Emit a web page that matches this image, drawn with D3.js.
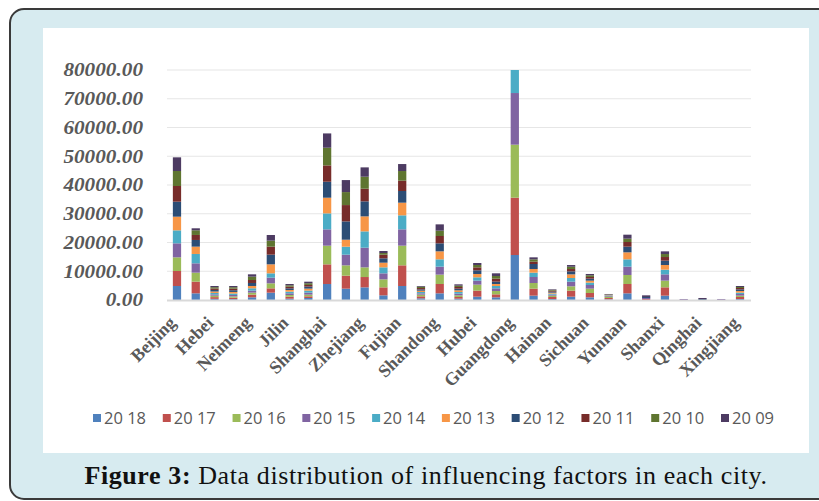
<!DOCTYPE html>
<html><head><meta charset="utf-8">
<script src="https://cdn.jsdelivr.net/npm/d3@7"></script>
<style>html,body{margin:0;padding:0;background:#fff;}svg{display:block;}</style>
</head><body>
<svg id="c" width="819" height="501"></svg>
<script>
const cities = ["Beijing","Tianjin","Hebei","Shanxi","Neimeng","Liaoning","Jilin","Heilongjiang","Shanghai","Jiangsu","Zhejiang","Anhui","Fujian","Jiangxi","Shandong","Henan","Hubei","Hunan","Guangdong","Guangxi","Hainan","Chongqing","Sichuan","Guizhou","Yunnan","Tibet","Shanxi","Gansu","Qinghai","Ningxia","Xingjiang"];
const years = ["20 18","20 17","20 16","20 15","20 14","20 13","20 12","20 11","20 10","20 09"];
const colors = ["#4f81bd","#c0504d","#9bbb59","#8064a2","#4bacc6","#f79646","#2c4d75","#772c2a","#5f7530","#4d3b62"];
const v2018 = [4870,2320,400,300,930,2550,460,700,5560,3940,4400,1620,4870,580,2320,460,1160,930,15650,1510,350,1160,930,230,2320,0,1510,0,0,0,350];
const v2017 = [5220,4060,600,500,930,1510,700,580,6840,4520,3590,2780,7190,700,3250,580,2090,1040,19940,2430,700,2090,1510,460,3250,350,2900,0,0,0,700];
const v2016 = [4750,3130,500,450,700,1740,580,580,6490,3590,3360,2780,6840,580,3250,580,2090,1160,18430,1970,460,1510,1510,460,3130,0,2320,0,0,0,460];
const v2015 = [4870,3250,450,500,700,1970,580,700,5680,3710,6840,2090,5680,460,2780,580,1390,930,17970,2090,350,1620,1270,230,2900,350,2200,350,0,350,580];
const v2014 = [4520,3250,500,500,810,1510,580,700,5560,2780,5680,2090,4870,460,2550,580,1160,810,8010,1510,350,1270,810,230,2550,0,1620,0,0,0,460];
const v2013 = [4750,2550,500,550,810,3130,580,700,5450,2430,5220,1620,4400,460,2780,580,1160,700,0,1270,350,1270,700,120,2430,0,1620,0,0,0,580];
const v2012 = [5220,2320,550,600,1040,3360,580,700,5560,6370,5220,1510,4060,460,2780,580,1270,810,0,1740,350,1040,700,120,1970,350,1510,0,350,0,580];
const v2011 = [5450,1740,500,550,1040,2780,580,580,5680,5680,4400,1270,3590,460,2550,580,1040,1040,0,810,350,810,580,120,1620,0,1270,0,0,0,460];
const v2010 = [5220,1620,450,500,1160,2090,460,580,6140,4520,4170,580,3360,460,1850,460,810,930,0,810,250,810,580,60,1160,0,1040,0,0,0,350];
const v2009 = [4750,700,420,420,810,1970,460,550,4980,4170,3250,700,2430,250,2200,470,700,930,0,700,200,580,460,60,1390,570,930,0,350,0,350];
const series = [v2018,v2017,v2016,v2015,v2014,v2013,v2012,v2011,v2010,v2009];
const yTicks = [0,10000,20000,30000,40000,50000,60000,70000,80000];
const caption = {bold:"Figure 3:", rest:" Data distribution of influencing factors in each city."};

const svg = d3.select("#c");
svg.append("rect").attr("x",10).attr("y",9).attr("width",840).attr("height",490).attr("rx",14)
  .attr("fill","#d7ebf0").attr("stroke","#3a3a3a").attr("stroke-width",2);
svg.append("rect").attr("x",43).attr("y",28).attr("width",766).attr("height",425).attr("fill","#ffffff");

const rows = cities.map((c,i)=>{const o={i}; years.forEach((y,k)=>o[y]=series[k][i]); return o;});
const x = d3.scaleBand().domain(d3.range(cities.length)).range([167.6,749.4]).paddingInner(0.56).paddingOuter(0.28);
const y = d3.scaleLinear().domain([0,80000]).range([300,70]);

svg.append("g").selectAll("line").data(yTicks.slice(1)).join("line")
  .attr("x1",167).attr("x2",751).attr("y1",d=>y(d)).attr("y2",d=>y(d))
  .attr("stroke","#e6e6e6").attr("stroke-width",1.2);

const stack = d3.stack().keys(years)(rows);
svg.append("g").selectAll("g").data(stack).join("g").attr("fill",(d,k)=>colors[k])
  .selectAll("rect").data(d=>d).join("rect")
  .attr("x",d=>x(d.data.i)).attr("width",x.bandwidth())
  .attr("y",d=>y(d[1])).attr("height",d=>Math.max(0,y(d[0])-y(d[1])));

svg.append("line").attr("x1",167).attr("x2",751).attr("y1",y(0)+0.5).attr("y2",y(0)+0.5)
  .attr("stroke","#d9d9d9").attr("stroke-width",2);

const fmt = d3.format(".2f");
const yl = svg.append("g").attr("transform","translate(143,0) scale(1.18,1)");
yl.selectAll("text").data(yTicks).join("text")
  .attr("x",0).attr("y",d=>y(d)).attr("dy","0.35em").attr("text-anchor","end")
  .attr("font-family","Liberation Serif").attr("font-weight","bold").attr("font-style","italic")
  .attr("font-size",18).attr("fill","#595959").text(d=>fmt(d));

svg.append("g").selectAll("text").data(d3.range(0,cities.length,2)).join("text")
  .attr("transform",i=>`translate(${x(i)+x.bandwidth()/2},${324}) rotate(-45)`)
  .attr("text-anchor","end").attr("font-family","Liberation Serif").attr("font-weight","bold")
  .attr("font-size",18).attr("fill","#595959").text(i=>cities[i]);

const lx = d3.scalePoint().domain(years).range([93,721]);
const lg = svg.append("g").selectAll("g").data(years).join("g").attr("transform",d=>`translate(${lx(d)},418)`);
lg.append("rect").attr("x",0).attr("y",-4).attr("width",8).attr("height",8).attr("fill",(d,k)=>colors[k]);
lg.append("text").attr("x",11).attr("y",0).attr("dy","0.35em").attr("font-family","Open Sans")
  .attr("font-size",16.5).attr("fill","#595959").text(d=>d);

const ct = svg.append("text").attr("x",426).attr("y",484).attr("text-anchor","middle")
  .attr("font-family","Liberation Serif").attr("font-size",26).attr("letter-spacing",0.6).attr("fill","#111");
ct.append("tspan").attr("font-weight","bold").text(caption.bold);
ct.append("tspan").text(caption.rest);
</script>
</body></html>
